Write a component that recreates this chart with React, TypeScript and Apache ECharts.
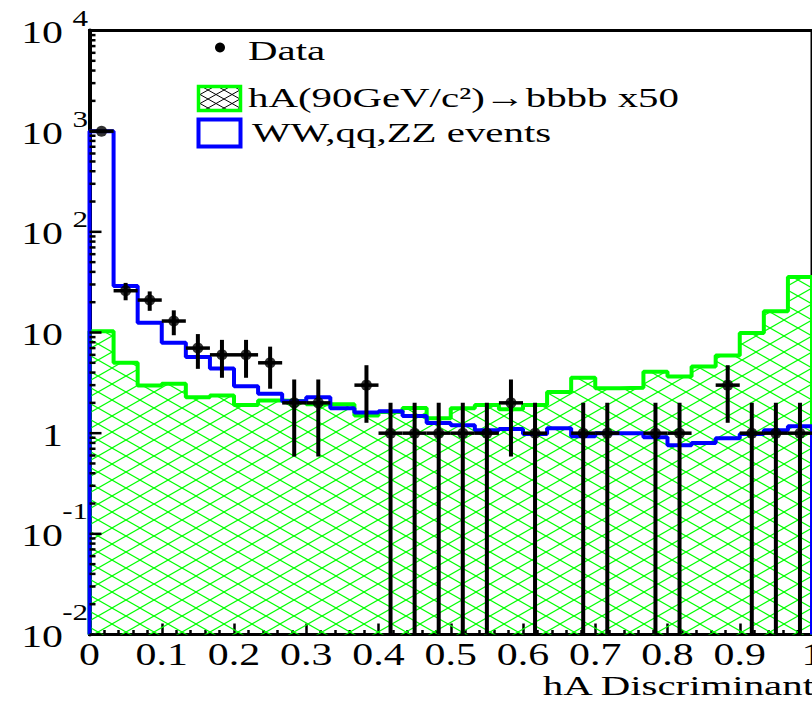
import React, { useEffect, useRef } from "react";
import * as echarts from "echarts";

// ---- data ----
const nBins = 30;
const xMin = 0;
const xMax = 1;
const yMin = 0.01;
const yMax = 10000;

// hA(90 GeV/c^2) -> bbbb signal, scaled x50 (green hatched)
const signalX50 = [
  10.3, 5.0, 2.98, 3.09, 2.28, 2.37, 1.9, 2.11, 2.08, 1.94,
  1.94, 1.5, 1.62, 1.78, 1.41, 1.77, 1.9, 1.73, 1.9, 2.57,
  3.55, 2.8, 2.82, 4.07, 3.66, 4.6, 5.9, 9.9, 16.3, 35.5,
];
// WW, qq, ZZ background (blue outline)
const background = [
  1000, 28.9, 12.5, 7.9, 5.7, 4.4, 2.93, 2.46, 2.08, 2.28,
  1.77, 1.6, 1.65, 1.48, 1.26, 1.2, 1.07, 1.1, 0.98, 1.12,
  0.93, 1.0, 1.0, 0.91, 0.76, 0.8, 0.89, 0.98, 1.07, 1.17,
];
// observed data counts
const dataCounts = [
  1000, 26, 21, 13, 7, 6, 6, 5, 2, 2,
  0, 3, 1, 1, 1, 1, 1, 2, 1, 0,
  1, 1, 0, 1, 1, 0, 3, 1, 1, 1,
];

const xTickValues = [0, 0.1, 0.2, 0.3, 0.4, 0.5, 0.6, 0.7, 0.8, 0.9, 1];
const xTickLabels = ["0", "0.1", "0.2", "0.3", "0.4", "0.5", "0.6", "0.7", "0.8", "0.9", "1"];
const yDecades = [0.01, 0.1, 1, 10, 100, 1000, 10000];
const yLabelBase = ["10", "10", "1", "10", "10", "10", "10"];
const yLabelExp = ["-2", "-1", "", "", "2", "3", "4"];
const yMinorMantissas = [2, 3, 4, 5, 6, 7, 8, 9];

const legendLabels = ["Data", "hA(90GeV/c\u00B2)\u2192bbbb x50", "WW,qq,ZZ events"];
const xAxisTitle = "hA Discriminant";

const GREEN = "#00ff00";
const BLUE = "#0000ff";
const FONT = "Liberation Serif";

function hatch(color: string, w: number, h: number, lw: number) {
  const lines: string[] = [];
  for (const dx of [-w, 0, w]) {
    lines.push(`<line x1="${dx - w}" y1="${2 * h}" x2="${dx + 2 * w}" y2="${-h}"/>`);
    lines.push(`<line x1="${dx - w}" y1="${-h}" x2="${dx + 2 * w}" y2="${2 * h}"/>`);
  }
  const svg = `<svg xmlns="http://www.w3.org/2000/svg" width="${w}" height="${h}"><g stroke="${color}" stroke-width="${lw}" fill="none">${lines.join("")}</g></svg>`;
  return {
    image: "data:image/svg+xml;base64," + btoa(svg),
    repeat: "repeat",
    imageWidth: w,
    imageHeight: h,
  } as any;
}

export default function App() {
  const ref = useRef<HTMLDivElement>(null);

  useEffect(() => {
    const chart = echarts.init(ref.current!, null, { renderer: "svg" });
    const binW = (xMax - xMin) / nBins;

    const stepData = (vals: number[]) => {
      const pts: number[][] = [[xMin, yMin]];
      vals.forEach((v, i) => pts.push([xMin + i * binW, v]));
      pts.push([xMax, vals[vals.length - 1]]);
      pts.push([xMax, yMin]);
      return pts;
    };

    const pointData: number[][] = [];
    const errData: number[][] = [];
    dataCounts.forEach((n, i) => {
      if (n <= 0) return;
      const lo = xMin + i * binW;
      const xc = lo + binW / 2;
      const e = Math.sqrt(n);
      pointData.push([xc, n]);
      errData.push([xc, n, Math.max(n - e, yMin), n + e, lo, lo + binW]);
    });

    const yTickData: number[][] = [];
    yDecades.forEach((d, k) => {
      yTickData.push([xMin, d, 1]);
      if (k < yDecades.length - 1) yMinorMantissas.forEach((m) => yTickData.push([xMin, m * d, 0]));
    });

    const option: any = {
      animation: false,
      grid: {
        left: 89.5,
        right: -2.5,
        top: 30.5,
        bottom: 69.5,
        show: true,
        borderColor: "#000",
        borderWidth: 3,
        backgroundColor: "transparent",
      },
      xAxis: {
        type: "value",
        min: xMin,
        max: xMax,
        interval: 0.1,
        axisLine: { show: true, onZero: false, lineStyle: { color: "#000", width: 3 } },
        axisTick: { show: true, inside: true, length: 11, lineStyle: { color: "#000", width: 2.5 } },
        minorTick: { show: true, splitNumber: 5, length: 4.5, lineStyle: { color: "#000", width: 2.5 } },
        axisLabel: { show: false },
        splitLine: { show: false },
      },
      yAxis: {
        type: "log",
        logBase: 10,
        min: yMin,
        max: yMax,
        axisLine: { show: true, lineStyle: { color: "#000", width: 4 } },
        axisTick: { show: false },
        axisLabel: { show: false },
        splitLine: { show: false },
      },
      series: [
        {
          name: "signal",
          type: "line",
          step: "end",
          data: stepData(signalX50),
          showSymbol: false,
          symbol: "none",
          lineStyle: { color: GREEN, width: 4 },
          areaStyle: { origin: "start", color: hatch(GREEN, 28, 16, 1.1), opacity: 1 },
          z: 2,
          silent: true,
        },
        {
          name: "background",
          type: "line",
          step: "end",
          data: stepData(background),
          showSymbol: false,
          symbol: "none",
          lineStyle: { color: BLUE, width: 4 },
          z: 3,
          silent: true,
        },
        {
          name: "errors",
          type: "custom",
          data: errData,
          z: 4,
          silent: true,
          renderItem: (_p: any, api: any) => {
            const xc = api.value(0), n = api.value(1), lo = api.value(2), hi = api.value(3);
            const bl = api.value(4), bh = api.value(5);
            const a = api.coord([xc, lo]);
            const b = api.coord([xc, hi]);
            const l = api.coord([bl, n]);
            const r = api.coord([bh, n]);
            return {
              type: "group",
              children: [
                { type: "line", shape: { x1: a[0], y1: a[1], x2: b[0], y2: b[1] }, style: { stroke: "#000", lineWidth: 4 } },
                { type: "line", shape: { x1: l[0], y1: l[1], x2: r[0], y2: r[1] }, style: { stroke: "#000", lineWidth: 3.5 } },
              ],
            };
          },
        },
        {
          name: "Data",
          type: "scatter",
          data: pointData,
          symbol: "circle",
          symbolSize: 11,
          itemStyle: { color: "#000" },
          z: 5,
          silent: true,
        },
        {
          name: "yticks",
          type: "custom",
          data: yTickData,
          z: 6,
          silent: true,
          clip: false,
          renderItem: (_p: any, api: any) => {
            const p = api.coord([api.value(0), api.value(1)]);
            const len = api.value(2) ? 12 : 6;
            return {
              type: "line",
              shape: { x1: p[0], y1: p[1], x2: p[0] + len, y2: p[1] },
              style: { stroke: "#000", lineWidth: 2.5 },
            };
          },
        },
      ],
    };
    chart.setOption(option);

    const txt = (text: string, x: number, y: number, size: number, sx: number, align: string, extra: any = {}) => ({
      type: "text",
      x,
      y,
      scaleX: sx,
      silent: true,
      style: {
        text,
        x: 0,
        y: 0,
        fill: "#000",
        fontFamily: FONT,
        fontSize: size,
        align,
        textAlign: align,
        verticalAlign: "middle",
        textVerticalAlign: "middle",
        ...extra,
      },
    });

    const g: any[] = [];
    xTickValues.forEach((v, i) => {
      const px = chart.convertToPixel({ xAxisIndex: 0 } as any, v) as number;
      g.push(txt(xTickLabels[i], px, 654, 31, 1.35, "center"));
    });
    yDecades.forEach((d, i) => {
      const py = chart.convertToPixel({ yAxisIndex: 0 } as any, d) as number;
      g.push(txt(yLabelBase[i], 63, py + 2, 31, 1.35, "right"));
      const e = yLabelExp[i];
      if (e) {
        const off = e.startsWith("-") ? -22 : -12;
        g.push(txt(e, 88, py + off, 23, 1.35, "right"));
      }
    });
    g.push(txt(xAxisTitle, 814, 686, 28, 1.46, "right"));

    // legend
    g.push({ type: "circle", shape: { cx: 220, cy: 47.5, r: 5 }, style: { fill: "#000" }, silent: true });
    g.push(txt(legendLabels[0], 248, 51, 28, 1.46, "left"));
    g.push({
      type: "rect",
      shape: { x: 198.5, y: 86.5, width: 42, height: 24 },
      style: { fill: hatch("#000", 16, 9, 1), stroke: GREEN, lineWidth: 3.5 },
      silent: true,
    });
    g.push(txt(legendLabels[1], 248, 98, 28, 1.46, "left"));
    g.push({
      type: "rect",
      shape: { x: 198.5, y: 119.5, width: 42, height: 27 },
      style: { fill: "#fff", stroke: BLUE, lineWidth: 4 },
      silent: true,
    });
    g.push(txt(legendLabels[2], 252, 133, 28, 1.46, "left"));

    chart.setOption({ graphic: g });

    return () => chart.dispose();
  }, []);

  return (
    <div
      ref={ref}
      style={{ position: "absolute", left: 0, top: 0, width: 812, height: 704, background: "#fff" }}
    />
  );
}
